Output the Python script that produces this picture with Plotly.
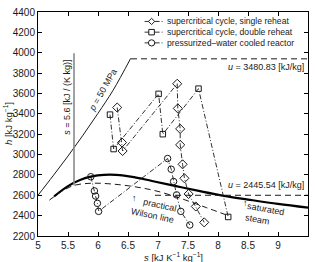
import plotly.graph_objects as go

# ---------------- data ----------------
single_s = [6.32, 6.40, 6.41, 7.32, 7.33, 7.37, 7.37, 7.41, 7.44, 7.51, 7.63, 7.77]
single_h = [3462, 3118, 3035, 3695, 3453, 3252, 3095, 2904, 2767, 2613, 2490, 2334]

double_s = [6.20, 6.26, 7.01, 7.08, 7.675, 8.17]
double_h = [3392, 3054, 3596, 3200, 3647, 2387]

pwr_s = [5.88, 5.94, 5.96, 5.99, 6.01, 7.16, 7.22, 7.26, 7.31, 7.38, 7.53]
pwr_h = [2782, 2643, 2592, 2521, 2442, 2961, 2856, 2735, 2604, 2442, 2308]

sat_s = [5.27, 5.5, 5.7, 5.9, 6.1, 6.3, 6.6, 6.9, 7.3, 7.7, 8.1, 8.5, 9.0, 9.5]
sat_h = [2590, 2690, 2750, 2785, 2800, 2800, 2778, 2740, 2690, 2640, 2594, 2558, 2515, 2478]

wilson_s = [5.19, 5.4, 5.6, 5.88, 6.2, 6.6, 7.0, 7.4, 7.8, 8.13]
wilson_h = [2552, 2640, 2697, 2718, 2712, 2685, 2638, 2565, 2480, 2409]

p50_s = [5.0, 5.25, 5.5, 5.75, 6.0, 6.25, 6.545]
p50_h = [2600, 2790, 2985, 3190, 3405, 3630, 3945]

s56_s = [5.6, 5.6]
s56_h = [2697, 3995]

u_high_s = [6.55, 9.5]
u_high_h = [3940, 3940]

u_low_s = [6.95, 9.5]
u_low_h = [2600, 2600]

legend_names = ["supercritical cycle, single reheat",
                "supercritical cycle, double reheat",
                "pressurized\u2013water cooled reactor"]

x_ticks = [5, 5.5, 6, 6.5, 7, 7.5, 8, 8.5, 9, 9.5]
y_ticks = list(range(2200, 4401, 200))

# ---------------- figure ----------------
FONT = "Liberation Sans, Arial, sans-serif"
INK = "#1a1a1a"
DASHDOT = "5px,2px,1px,2px"
DASH = "6px,4px"

fig = go.Figure()

fig.add_trace(go.Scatter(x=sat_s, y=sat_h, mode="lines",
                         line=dict(color="black", width=2.2), showlegend=False,
                         line_shape="spline"))
fig.add_trace(go.Scatter(x=wilson_s, y=wilson_h, mode="lines",
                         line=dict(color=INK, width=1, dash=DASH), showlegend=False,
                         line_shape="spline"))
fig.add_trace(go.Scatter(x=p50_s, y=p50_h, mode="lines",
                         line=dict(color=INK, width=1), showlegend=False,
                         line_shape="spline"))
fig.add_trace(go.Scatter(x=s56_s, y=s56_h, mode="lines",
                         line=dict(color="#8a8a8a", width=1.6), showlegend=False))
fig.add_trace(go.Scatter(x=u_high_s, y=u_high_h, mode="lines",
                         line=dict(color=INK, width=1, dash=DASH), showlegend=False))
fig.add_trace(go.Scatter(x=u_low_s, y=u_low_h, mode="lines",
                         line=dict(color=INK, width=1, dash=DASH), showlegend=False))

series = [(single_s, single_h, "diamond-open", 7),
          (double_s, double_h, "square-open", 5.5),
          (pwr_s, pwr_h, "circle-open", 6.5)]
for (xs, ys, sym, msize), name in zip(series, legend_names):
    fig.add_trace(go.Scatter(
        x=xs, y=ys, mode="lines+markers", name=name, showlegend=False,
        line=dict(color=INK, width=0.9, dash=DASHDOT),
        marker=dict(symbol=sym, size=msize,
                    color=INK, line=dict(width=1, color=INK))))

# ---------------- hand-made legend (layout only) ----------------
L, R, T, B = 38, 6, 6, 26
PW, PH = 315 - L - R, 262 - T - B


def px2paper(px, py):
    return (px - L) / PW, 1 - (py - T) / PH


shapes = []
annots = []
leg_rows = [15.7, 26.7, 37.7]
for i, (row_y, name) in enumerate(zip(leg_rows, legend_names)):
    x0, y0 = px2paper(145, row_y)
    x1, _ = px2paper(163, row_y)
    xm, _ = px2paper(152, row_y)
    shapes.append(dict(type="line", xref="paper", yref="paper", x0=x0, x1=x1,
                       y0=y0, y1=y0, line=dict(color=INK, width=0.9, dash=DASHDOT)))
    d = 3.2 / PW
    e = 3.2 / PH
    if i == 0:
        path = f"M {xm-d},{y0} L {xm},{y0+e} L {xm+d},{y0} L {xm},{y0-e} Z"
        shapes.append(dict(type="path", xref="paper", yref="paper", path=path,
                           fillcolor="white", line=dict(color=INK, width=1)))
    elif i == 1:
        d2, e2 = 2.8 / PW, 2.8 / PH
        shapes.append(dict(type="rect", xref="paper", yref="paper",
                           x0=xm - d2, x1=xm + d2, y0=y0 - e2, y1=y0 + e2,
                           fillcolor="white", line=dict(color=INK, width=1)))
    else:
        shapes.append(dict(type="circle", xref="paper", yref="paper",
                           x0=xm - d, x1=xm + d, y0=y0 - e, y1=y0 + e,
                           fillcolor="white", line=dict(color=INK, width=1)))
    tx, _ = px2paper(165, row_y)
    annots.append(dict(x=tx, y=y0, xref="paper", yref="paper", text=name,
                       showarrow=False, xanchor="left", yanchor="middle",
                       font=dict(size=8.6, color=INK, family=FONT)))

# ---------------- text annotations ----------------
def note(x, y, text, size=9, angle=0, xanchor="center", yanchor="middle", align="center"):
    annots.append(dict(x=x, y=y, xref="x", yref="y", text=text, showarrow=False,
                       textangle=angle, xanchor=xanchor, yanchor=yanchor, align=align,
                       font=dict(size=size, color=INK, family=FONT)))


note(9.46, 3857, "<i>u</i> = 3480.83 [kJ/kg]", size=9, xanchor="right")
note(9.47, 2700, "<i>u</i> = 2445.54 [kJ/kg]", size=9, xanchor="right")
note(6.08, 3636, "<i>p</i> = 50 MPa", size=9, angle=-60)
note(5.47, 3560, "<i>s</i> = 5.6 [kJ / (K kg)]", size=9, angle=-90)
note(8.46, 2525, "\u2191", size=9)
note(8.78, 2405, "saturated<br>steam", size=9, angle=10, align="left")
note(6.61, 2570, "\u2191", size=9)
note(6.93, 2459, "practical<br>Wilson line", size=9, angle=12, align="right")

annots.append(dict(x=0.5, y=0, xref="paper", yref="paper",
                   text="<i>s</i> [kJ K<sup>\u22121</sup> kg<sup>\u22121</sup>]",
                   showarrow=False, xanchor="center", yanchor="top", yshift=-13,
                   font=dict(size=9.5, color=INK, family=FONT)))
annots.append(dict(x=0, y=0.5, xref="paper", yref="paper",
                   text="<i>h</i> [kJ kg<sup>\u22121</sup>]", textangle=-90,
                   showarrow=False, xanchor="center", yanchor="middle", xshift=-30,
                   font=dict(size=9.5, color=INK, family=FONT)))

axis_common = dict(showgrid=False, zeroline=False, showline=True, linecolor="black",
                   linewidth=1, mirror="allticks", ticks="inside", ticklen=4,
                   tickcolor="black", tickfont=dict(size=10, color=INK, family=FONT))

fig.update_layout(
    width=315, height=262,
    margin=dict(l=L, r=R, t=T, b=B, pad=0),
    paper_bgcolor="white", plot_bgcolor="white",
    showlegend=False,
    xaxis=dict(range=[5, 9.5], tickvals=x_ticks,
               ticktext=[f"{v:g}" for v in x_ticks], **axis_common),
    yaxis=dict(range=[2200, 4400], tickvals=y_ticks,
               ticktext=[str(v) for v in y_ticks], **axis_common),
    shapes=shapes,
    annotations=annots,
)

fig.write_html("out.html")
